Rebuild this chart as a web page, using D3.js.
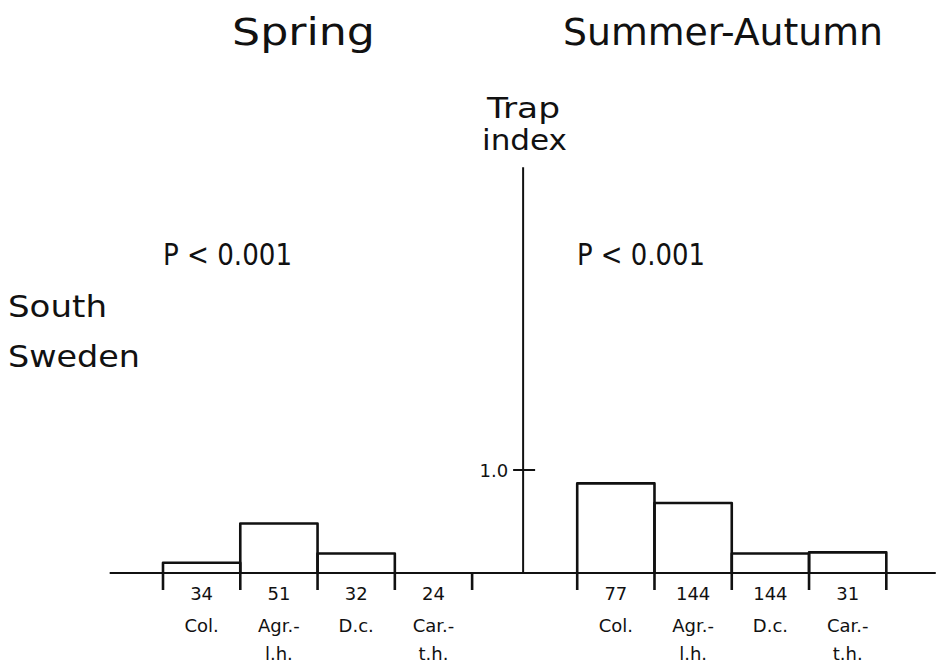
<!DOCTYPE html>
<html>
<head>
<meta charset="utf-8">
<script src="https://cdn.jsdelivr.net/npm/d3@7/dist/d3.min.js"></script>
<style>
  html, body { margin: 0; padding: 0; background: #fff; }
  svg { display: block; }
  text { font-family: "DejaVu Sans", "Liberation Sans", sans-serif; fill: #111; }
</style>
</head>
<body>
<svg id="chart" width="942" height="665"></svg>
<script>
// Trap index per habitat group, South Sweden
const categories = ["Col.", "Agr.-|l.h.", "D.c.", "Car.-|t.h."];
const springCounts = [34, 51, 32, 24];
const springIndex = [0.10, 0.48, 0.19, 0.0];
const summerCounts = [77, 144, 144, 31];
const summerIndex = [0.87, 0.68, 0.19, 0.20];
const yTicks = [1.0];
const seasonTitles = ["Spring", "Summer-Autumn"];
const pLabels = ["P < 0.001", "P < 0.001"];

const svg = d3.select("#chart");
const ink = "#111";

// x is measured in bin widths; the summer group starts after a gap holding the axis
const summerOffset = 5.36;
const axisPos = 4.66;
const x = d3.scaleLinear().domain([0, 9.33]).range([163, 884]);
const y = d3.scaleLinear().domain([0, 1]).range([573, 470]);

const groups = [
  { offset: 0, counts: springCounts, values: springIndex },
  { offset: summerOffset, counts: summerCounts, values: summerIndex }
];

// text helper that stretches to a given width
function label(txt, x0, x1, yb, size, anchor) {
  const t = svg.append("text")
    .attr("y", yb)
    .attr("font-size", size)
    .text(txt);
  if (anchor === "middle") {
    t.attr("x", (x0 + x1) / 2).attr("text-anchor", "middle");
  } else {
    t.attr("x", x0);
  }
  if (x1 != null) t.attr("textLength", x1 - x0).attr("lengthAdjust", "spacingAndGlyphs");
  return t;
}

// baseline
svg.append("line")
  .attr("x1", x(-0.69)).attr("x2", x(10.0))
  .attr("y1", y(0)).attr("y2", y(0))
  .attr("stroke", ink).attr("stroke-width", 2);

// vertical axis with its single tick
const yTop = 3.94;
svg.append("line")
  .attr("x1", x(axisPos)).attr("x2", x(axisPos))
  .attr("y1", y(0)).attr("y2", y(yTop))
  .attr("stroke", ink).attr("stroke-width", 2);
yTicks.forEach(v => {
  svg.append("line")
    .attr("x1", x(axisPos) - 10).attr("x2", x(axisPos) + 12)
    .attr("y1", y(v)).attr("y2", y(v))
    .attr("stroke", ink).attr("stroke-width", 2);
  svg.append("text")
    .attr("x", x(axisPos) - 15).attr("y", y(v) + 7)
    .attr("text-anchor", "end")
    .attr("font-size", 18)
    .text(d3.format(".1f")(v));
});

groups.forEach(g => {
  // bars as open outlines
  g.values.forEach((v, i) => {
    const x0 = x(g.offset + i), x1 = x(g.offset + i + 1);
    if (v > 0) {
      svg.append("path")
        .attr("d", `M${x0},${y(0)}V${y(v)}H${x1}V${y(0)}`)
        .attr("fill", "none").attr("stroke", ink)
        .attr("stroke-width", 2.6).attr("stroke-linejoin", "round");
    }
  });
  // bin boundary ticks below the baseline
  d3.range(5).forEach(i => {
    svg.append("line")
      .attr("x1", x(g.offset + i)).attr("x2", x(g.offset + i))
      .attr("y1", y(0)).attr("y2", y(0) + 17)
      .attr("stroke", ink).attr("stroke-width", 2.6);
  });
  // sample sizes and category names
  g.counts.forEach((n, i) => {
    const cx = x(g.offset + i + 0.5);
    svg.append("text")
      .attr("x", cx).attr("y", 600)
      .attr("text-anchor", "middle").attr("font-size", 18)
      .text(n);
    categories[i].split("|").forEach((line, k) => {
      svg.append("text")
        .attr("x", cx).attr("y", 632 + k * 28)
        .attr("text-anchor", "middle").attr("font-size", 18)
        .text(line);
    });
  });
});

// titles and annotations
label(seasonTitles[0], 232, 375, 45, 37);
label(seasonTitles[1], 563, 883, 45, 37);
label("Trap", 487, 560, 118, 29);
label("index", 482, 567, 150, 29);
label(pLabels[0], 163, 292, 265, 31);
label(pLabels[1], 577, 705, 265, 31);
label("South", 8, 107, 317, 31);
label("Sweden", 8, 140, 367, 31);
</script>
</body>
</html>
